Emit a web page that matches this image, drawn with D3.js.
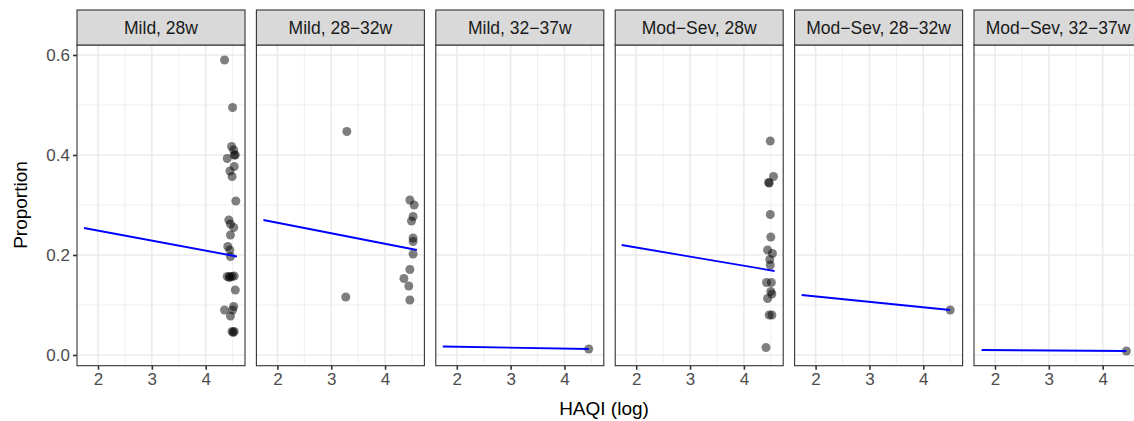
<!DOCTYPE html>
<html><head><meta charset="utf-8">
<script src="https://cdn.jsdelivr.net/npm/d3@7"></script>
<style>html,body{margin:0;padding:0;background:#fff;overflow:hidden}</style>
</head><body><svg id="c" width="1134" height="421"></svg>
<script>
const panelLabels = ["Mild, 28w","Mild, 28\u221232w","Mild, 32\u221237w","Mod\u2212Sev, 28w","Mod\u2212Sev, 28\u221232w","Mod\u2212Sev, 32\u221237w"];
const xTicks = [2,3,4];
const yTicks = [0,0.2,0.4,0.6];
const ptsX1 = [4.35,4.50,4.48,4.52,4.53,4.55,4.40,4.53,4.45,4.49,4.56,4.43,4.46,4.52,4.46,4.41,4.45,4.46,4.40,4.45,4.49,4.53,4.44,4.55,4.52,4.50,4.35,4.46,4.49,4.53,4.51];
const ptsY1 = [0.59,0.495,0.417,0.41,0.40,0.40,0.393,0.377,0.368,0.357,0.308,0.27,0.262,0.255,0.24,0.217,0.21,0.197,0.157,0.157,0.157,0.158,0.155,0.13,0.097,0.09,0.09,0.078,0.047,0.047,0.045];
const ptsX2 = [3.29,3.27,4.46,4.54,4.52,4.49,4.52,4.52,4.52,4.46,4.35,4.44,4.46];
const ptsY2 = [0.447,0.116,0.31,0.30,0.277,0.268,0.234,0.227,0.202,0.171,0.153,0.138,0.11];
const ptsX3 = [4.45];
const ptsY3 = [0.012];
const ptsX4 = [4.49,4.55,4.46,4.47,4.49,4.50,4.44,4.53,4.48,4.49,4.42,4.51,4.50,4.52,4.44,4.47,4.52,4.41];
const ptsY4 = [0.428,0.357,0.345,0.344,0.281,0.236,0.21,0.203,0.191,0.18,0.145,0.145,0.127,0.122,0.113,0.08,0.08,0.015];
const ptsX5 = [4.50];
const ptsY5 = [0.09];
const ptsX6 = [4.44];
const ptsY6 = [0.008];
const lineX0 = [1.74,1.74,1.74,1.73,1.74,1.75];
const lineX1 = [4.58,4.59,4.45,4.57,4.50,4.44];
const lineY0 = [0.254,0.27,0.017,0.22,0.12,0.010];
const lineY1 = [0.197,0.21,0.012,0.168,0.09,0.008];

const allX = [ptsX1,ptsX2,ptsX3,ptsX4,ptsX5,ptsX6];
const allY = [ptsY1,ptsY2,ptsY3,ptsY4,ptsY5,ptsY6];

const svg = d3.select("#c");
const font = "'Liberation Sans', Arial, sans-serif";
const left0 = 77, step = 179.4, pw = 168;
const stripTop = 10, pTop = 45, pBottom = 365.7;
const y = d3.scaleLinear().domain([-0.0214, 0.62]).range([pBottom, pTop]);

for (let i = 0; i < 6; i++) {
  const L = left0 + i*step;
  const x = d3.scaleLinear().domain([1.61, 4.73]).range([L, L+pw]);
  const g = svg.append("g");
  g.append("rect").attr("x",L).attr("y",pTop).attr("width",pw).attr("height",pBottom-pTop).attr("fill","#fff");
  const xMinor = [1.5,2.5,3.5,4.5].filter(v=>v>1.61&&v<4.73);
  const yMinor = [0.1,0.3,0.5];
  g.selectAll(".xm").data(xMinor).join("line").attr("x1",d=>x(d)).attr("x2",d=>x(d)).attr("y1",pTop).attr("y2",pBottom).attr("stroke","#ebebeb").attr("stroke-width",0.8);
  g.selectAll(".ym").data(yMinor).join("line").attr("y1",d=>y(d)).attr("y2",d=>y(d)).attr("x1",L).attr("x2",L+pw).attr("stroke","#ebebeb").attr("stroke-width",0.8);
  g.selectAll(".xM").data(xTicks).join("line").attr("x1",d=>x(d)).attr("x2",d=>x(d)).attr("y1",pTop).attr("y2",pBottom).attr("stroke","#ebebeb").attr("stroke-width",1.6);
  g.selectAll(".yM").data(yTicks).join("line").attr("y1",d=>y(d)).attr("y2",d=>y(d)).attr("x1",L).attr("x2",L+pw).attr("stroke","#ebebeb").attr("stroke-width",1.6);
  g.selectAll("circle").data(allX[i].map((v,k)=>[v,allY[i][k]])).join("circle")
    .attr("cx",d=>x(d[0])).attr("cy",d=>y(d[1])).attr("r",4.5).attr("fill","#000").attr("fill-opacity",0.5);
  const ln = d3.line().x(d=>x(d[0])).y(d=>y(d[1]));
  g.append("path").attr("d",ln([[lineX0[i],lineY0[i]],[lineX1[i],lineY1[i]]])).attr("stroke","#0000ff").attr("stroke-width",1.8).attr("fill","none");
  g.append("rect").attr("x",L).attr("y",pTop).attr("width",pw).attr("height",pBottom-pTop).attr("fill","none").attr("stroke","#333").attr("stroke-width",1.1);
  g.append("rect").attr("x",L).attr("y",stripTop).attr("width",pw).attr("height",pTop-stripTop).attr("fill","#d9d9d9").attr("stroke","#333").attr("stroke-width",1.1);
  g.append("text").attr("x",L+pw/2).attr("y",(stripTop+pTop)/2).attr("dy","0.35em").attr("text-anchor","middle")
    .attr("font-family",font).attr("font-size",17.5).attr("fill","#1a1a1a").text(panelLabels[i]);
  const ax = svg.append("g").attr("transform",`translate(0,${pBottom})`).call(d3.axisBottom(x).tickValues(xTicks).tickFormat(d3.format("d")).tickSize(4).tickPadding(3));
  ax.select(".domain").remove();
  ax.selectAll("line").attr("stroke","#333").attr("stroke-width",1.6);
  ax.selectAll("text").attr("font-family",font).attr("font-size",17).attr("fill","#4d4d4d");
}
const ay = svg.append("g").attr("transform",`translate(${left0},0)`).call(d3.axisLeft(y).tickValues(yTicks).tickFormat(d3.format(".1f")).tickSize(4).tickPadding(3));
ay.select(".domain").remove();
ay.selectAll("line").attr("stroke","#333").attr("stroke-width",1.6);
ay.selectAll("text").attr("font-family",font).attr("font-size",17).attr("fill","#4d4d4d");

svg.append("text").attr("transform",`translate(27,205) rotate(-90)`).attr("text-anchor","middle")
  .attr("font-family",font).attr("font-size",19).attr("fill","#000").text("Proportion");
svg.append("text").attr("x",604).attr("y",415).attr("text-anchor","middle")
  .attr("font-family",font).attr("font-size",19).attr("fill","#000").text("HAQI (log)");
</script></body></html>
